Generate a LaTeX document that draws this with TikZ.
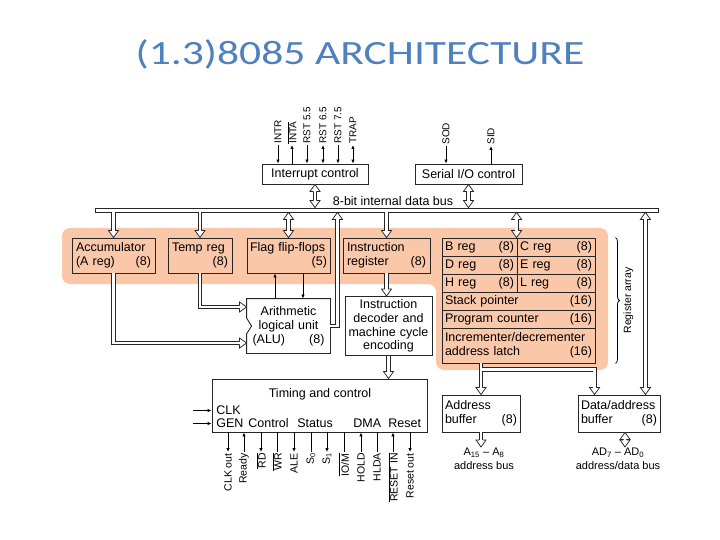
\documentclass[tikz,border=0pt]{standalone}
\usepackage{amsmath}
\usepackage{fontspec}
\setmainfont{Liberation Sans}
\newfontfamily\titlefont{Carlito}
\usetikzlibrary{arrows.meta,decorations.pathreplacing}

\definecolor{titleblue}{RGB}{79,129,189}
\definecolor{regbg}{RGB}{250,199,168}

\tikzset{
    box/.style={draw=black!85, line width=0.9pt, inner sep=3pt, font=\fontsize{12.5}{13.8}\selectfont},
    reg/.style={box, minimum height=18, align=left},
    txt/.style={inner sep=1pt, font=\fontsize{12.5}{13.8}\selectfont},
    vlab/.style={rotate=90, anchor=west, inner sep=1pt, font=\fontsize{10}{11}\selectfont},
    blab/.style={rotate=90, anchor=east, inner sep=1pt, font=\fontsize{10.5}{11}\selectfont},
    hollow/.style={draw=black!85, double, double distance=2.6pt, line width=0.75pt},
    hhead/.pic={\filldraw[draw=black!85, fill=white, line width=0.75pt] (-1.7,-7) -- (-5,-7) -- (0,0) -- (5,-7) -- (1.7,-7);}
}

\begin{document}
\begin{tikzpicture}[x=1pt,y=-1pt,line width=0.8pt,>={Latex[length=4pt,width=3.5pt]}]
    \useasboundingbox (0,0) rectangle (720,540);
    % Title
    \node[font=\titlefont\fontsize{34}{36}\selectfont, text=titleblue, xscale=1.28, anchor=base] (title) at (360,65) {(1.3)8085 ARCHITECTURE};

    % Register section background
    \fill[regbg, rounded corners=8pt] (62,228) -- (608,228) -- (608,370) -- (436,370) -- (436,284) -- (62,284) -- cycle;

    % Internal data bus
    \node[draw=black!85, fill=white, inner sep=0pt, minimum width=563, minimum height=4] (bus) at (376.5,210) {};
    \node[txt, anchor=base] (buslab) at (393,205.5) {8-bit internal data bus};

    % Interrupt and serial I/O control
    \node[box, minimum width=106, minimum height=20] (intc) at (315,174) {Interrupt control};
    \node[box, minimum width=107, minimum height=20] (serc) at (468.5,174) {Serial I/O control};

    \node[vlab] (intr) at (278,145) {INTR};
    \node[vlab] (inta) at (292,145) {$\overline{\text{INTA}}$};
    \node[vlab] (rsta) at (307,145) {RST 5.5};
    \node[vlab] (rstb) at (323,145) {RST 6.5};
    \node[vlab] (rstc) at (338,145) {RST 7.5};
    \node[vlab] (trap) at (353,145) {TRAP};
    \draw[->] (intr) -- (intr |- intc.north);
    \draw[<-] (inta) -- (inta |- intc.north);
    \draw[->] (rsta) -- (rsta |- intc.north);
    \draw[<->] (rstb) -- (rstb |- intc.north);
    \draw[->] (rstc) -- (rstc |- intc.north);
    \draw[<->] (trap) -- (trap |- intc.north);

    \node[vlab] (sod) at (446,146) {SOD};
    \node[vlab] (sid) at (491,146) {SID};
    \draw[->] (sod) -- (sod |- serc.north);
    \draw[<-] (sid) -- (sid |- serc.north);

    \draw[hollow, shorten <=7pt, shorten >=7pt] (intc.south) -- (intc.south |- bus.north);
    \pic[rotate=180] at (intc.south) {hhead};
    \pic at (intc.south |- bus.north) {hhead};
    \draw[hollow, shorten <=7pt, shorten >=7pt] (serc.south) -- (serc.south |- bus.north);
    \pic[rotate=180] at (serc.south) {hhead};
    \pic at (serc.south |- bus.north) {hhead};

    % Registers on the bus
    \node[box, minimum width=83, minimum height=35, text width=75, align=left] (acc) at (113.5,255.5) {Accumulator\\(A reg)\hfill(8)};
    \node[box, minimum width=64, minimum height=35, text width=56, align=left] (tmp) at (200,255.5) {Temp reg\\\leavevmode\hfill(8)};
    \node[box, minimum width=83, minimum height=35, text width=77, align=left] (flag) at (288.5,255.5) {Flag flip-flops\\\leavevmode\hfill(5)};
    \node[box, minimum width=87, minimum height=35, text width=79, align=left] (ir) at (386.5,255.5) {Instruction\\register\hfill(8)};

    \draw[hollow, shorten >=7pt] (acc.north |- bus.south) -- (acc.north);
    \pic at (acc.north) {hhead};
    \draw[hollow, shorten >=7pt] (tmp.north |- bus.south) -- (tmp.north);
    \pic at (tmp.north) {hhead};
    \draw[hollow, shorten <=7pt, shorten >=7pt] (flag.north |- bus.south) -- (flag.north);
    \pic[rotate=180] at (flag.north |- bus.south) {hhead};
    \pic at (flag.north) {hhead};
    \draw[hollow, shorten >=7pt] (ir.north |- bus.south) -- (ir.north);
    \pic at (ir.north) {hhead};

    % ALU
    \node[box, draw=none, minimum width=83, minimum height=54, text width=72, align=center] (alu) at (288.5,326) {Arithmetic\\logical unit\\(ALU)\hfill(8)};
    \draw[draw=black!85, line width=0.9pt] (alu.north west) -- (alu.north east) -- (alu.south east) -- (alu.south west) -- ([yshift=-8pt]alu.west) -- ([xshift=5pt]alu.west) -- ([yshift=8pt]alu.west) -- cycle;

    \draw[hollow, shorten >=7pt] (tmp.south) |- ([yshift=19pt]alu.west);
    \pic[rotate=90] at ([yshift=19pt]alu.west) {hhead};
    \draw[hollow, shorten >=7pt] (acc.south) |- ([yshift=-17pt]alu.west);
    \pic[rotate=90] at ([yshift=-17pt]alu.west) {hhead};
    \draw[->] ([xshift=-13.5pt]alu.north) -- ([xshift=-13.5pt]flag.south);
    \draw[->] ([xshift=14.5pt]flag.south) -- ([xshift=14.5pt]alu.north);

    \path (flag.south east) ++(7,0) coordinate (aluup);
    \draw[hollow, shorten >=7pt] (alu.east) -| (aluup |- bus.south);
    \pic[rotate=180] at (aluup |- bus.south) {hhead};

    % Instruction decoder
    \node[box, minimum width=87, minimum height=54, text width=81, align=center] (dec) at (388.5,326) {Instruction\\decoder and\\machine cycle\\encoding};
    \draw[hollow, shorten >=7pt] (ir.south) -- (ir.south |- dec.north);
    \pic at (ir.south |- dec.north) {hhead};

    % Register array
    \node[reg, minimum width=75, text width=69] (breg) at (479.5,247) {B reg\hfill(8)};
    \node[reg, minimum width=78, text width=72] (creg) at (556,247) {C reg\hfill(8)};
    \node[reg, minimum width=75, text width=69] (dreg) at (479.5,265) {D reg\hfill(8)};
    \node[reg, minimum width=78, text width=72] (ereg) at (556,265) {E reg\hfill(8)};
    \node[reg, minimum width=75, text width=69] (hreg) at (479.5,283) {H reg\hfill(8)};
    \node[reg, minimum width=78, text width=72] (lreg) at (556,283) {L reg\hfill(8)};
    \node[reg, minimum width=153, text width=147] (sp) at (518.5,301) {Stack pointer\hfill(16)};
    \node[reg, minimum width=153, text width=147] (pc) at (518.5,319) {Program counter\hfill(16)};
    \node[reg, minimum width=153, minimum height=35, text width=147] (inc) at (518.5,345.5) {Incrementer/decrementer\\address latch\hfill(16)};

    \draw[hollow, shorten <=7pt, shorten >=7pt] (creg.north west |- bus.south) -- (creg.north west);
    \pic[rotate=180] at (creg.north west |- bus.south) {hhead};
    \pic at (creg.north west) {hhead};

    \draw[decorate, decoration={brace, amplitude=4pt}] ([xshift=20pt]creg.north east) -- ([xshift=20pt]inc.south east);
    \node[rotate=90, anchor=north, inner sep=1pt, font=\fontsize{10.5}{11}\selectfont] (ralab) at (622,300.5) {Register array};

    % Timing and control
    \node[box, minimum width=215, minimum height=53] (tc) at (319.5,405.5) {};
    \node[txt, anchor=base] (tctl) at (320,397) {Timing and control};
    \node[txt, anchor=base west] (clk) at (215,414) {CLK};
    \node[txt, anchor=base west] (gen) at (215,427) {GEN};
    \node[txt, anchor=base west] (ctrl) at (247,427) {Control};
    \node[txt, anchor=base west] (stat) at (296,427) {Status};
    \node[txt, anchor=base west] (dma) at (352,427) {DMA};
    \node[txt, anchor=base west] (rst) at (387,427) {Reset};
    \draw[hollow, shorten >=7pt] (dec.south) -- (dec.south |- tc.north);
    \pic at (dec.south |- tc.north) {hhead};

    \coordinate (clkin) at (193,410.5);
    \coordinate (genin) at (193,423.5);
    \draw[->] (clkin) -- (clkin -| tc.west);
    \draw[->] (genin) -- (genin -| tc.west);

    \node[blab] (clkout) at (228,452) {CLK out};
    \node[blab] (ready) at (244,452) {Ready};
    \node[blab] (rd) at (261,452) {$\overline{\text{RD}}$};
    \node[blab] (wr) at (277,452) {$\overline{\text{WR}}$};
    \node[blab] (ale) at (294,452) {ALE};
    \node[blab] (szero) at (311,452) {S\textsubscript{0}};
    \node[blab] (sone) at (327,452) {S\textsubscript{1}};
    \node[blab] (iom) at (344,452) {$\overline{\text{IO/M}}$};
    \node[blab] (hold) at (361,452) {HOLD};
    \node[blab] (hlda) at (377,452) {HLDA};
    \node[blab] (rstin) at (393,452) {$\overline{\text{RESET IN}}$};
    \node[blab] (rstout) at (410,452) {Reset out};
    \draw[->] (clkout |- tc.south) -- (clkout);
    \draw[->] (ready) -- (ready |- tc.south);
    \draw[->] (rd |- tc.south) -- (rd);
    \draw (wr |- tc.south) -- (wr);
    \draw[->] (ale |- tc.south) -- (ale);
    \draw (szero |- tc.south) -- (szero);
    \draw[->] (sone |- tc.south) -- (sone);
    \draw (iom |- tc.south) -- (iom);
    \draw[->] (hold) -- (hold |- tc.south);
    \draw (hlda |- tc.south) -- (hlda);
    \draw[->] (rstin) -- (rstin |- tc.south);
    \draw[->] (rstout |- tc.south) -- (rstout);

    % Address and data/address buffers
    \node[box, minimum width=78, minimum height=37, text width=72, align=left] (abuf) at (481,413.5) {Address\\buffer\hfill(8)};
    \node[box, minimum width=82, minimum height=37, text width=76, align=left] (dbuf) at (619,413.5) {Data/address\\buffer\hfill(8)};

    \draw[hollow, shorten >=7pt] (abuf.north |- inc.south) -- (abuf.north);
    \pic at (abuf.north) {hhead};
    \path (abuf.north |- inc.south) ++(1.3,6) coordinate (rbr);
    \path (dbuf.north west) ++(17,0) coordinate (dtap);
    \draw[hollow, shorten >=7pt] (rbr) -| (dtap);
    \pic at (dtap) {hhead};

    \path (dbuf.north east) ++(-15,0) coordinate (dtop);
    \draw[hollow, shorten <=7pt, shorten >=7pt] (dtop |- bus.south) -- (dtop);
    \pic[rotate=180] at (dtop |- bus.south) {hhead};
    \pic at (dtop) {hhead};

    % External buses
    \node[inner sep=1pt, align=center, anchor=north, font=\fontsize{11}{14}\selectfont] (abus) at (484,447) {A\textsubscript{15} -- A\textsubscript{8}\\address bus};
    \node[inner sep=1pt, align=center, anchor=north, font=\fontsize{11}{14}\selectfont] (dbus) at (618,447) {AD\textsubscript{7} -- AD\textsubscript{0}\\address/data bus};
    \draw[hollow, shorten >=7pt] (abuf.south) -- (abuf.south |- abus.north);
    \pic at (abuf.south |- abus.north) {hhead};
    \path (dbuf.south) ++(6,0) coordinate (dbot);
    \draw[hollow, shorten <=7pt, shorten >=7pt] (dbot) -- (dbot |- dbus.north);
    \pic[rotate=180] at (dbot) {hhead};
    \pic at (dbot |- dbus.north) {hhead};
\end{tikzpicture}
\end{document}
